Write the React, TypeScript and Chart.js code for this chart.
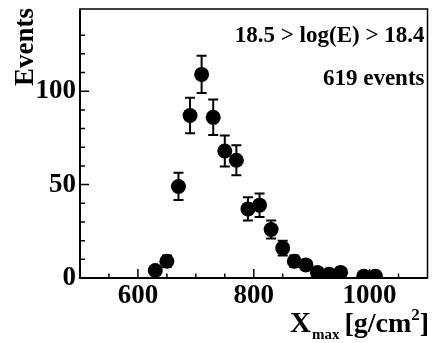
import React, { useEffect, useRef } from "react";
import { Chart, registerables } from "chart.js";

Chart.register(...registerables);

// Xmax bin centres [g/cm^2]
const xmaxBins = [630, 650, 670, 690, 710, 730, 750, 770, 790, 810, 830, 850, 870, 890, 910, 930, 950, 990, 1010];
// Events per bin
const eventCounts = [4, 9, 49, 87, 109, 86, 68, 63, 37, 39, 26, 16, 9, 7, 3, 2, 3, 1, 1];
// Statistical uncertainty per bin
const eventErrors = [2, 3, 7.3, 9.5, 10, 9.5, 8.3, 8, 6.2, 6.3, 4.8, 4, 3, 2.6, 1.8, 1.4, 1.8, 1, 1];

const energyLabel = "18.5 > log(E) > 18.4";
const countLabel = "619 events";
const xMajorLabels = [600, 800, 1000];
const yMajorLabels = [0, 50, 100];

const FONT = '"Liberation Serif", "DejaVu Serif", serif';

const framePlugin = {
  id: "frameAndText",
  beforeDatasetsDraw(chart: any) {
    const { ctx, scales } = chart;
    const xs = scales.x;
    const ys = scales.y;
    ctx.save();
    ctx.strokeStyle = "#000";
    ctx.lineWidth = 2;
    xmaxBins.forEach((xv, i) => {
      const px = xs.getPixelForValue(xv);
      const lo = ys.getPixelForValue(eventCounts[i] - eventErrors[i]);
      const hi = ys.getPixelForValue(eventCounts[i] + eventErrors[i]);
      ctx.beginPath();
      ctx.moveTo(px, lo);
      ctx.lineTo(px, hi);
      ctx.moveTo(px - 5, lo);
      ctx.lineTo(px + 5, lo);
      ctx.moveTo(px - 5, hi);
      ctx.lineTo(px + 5, hi);
      ctx.stroke();
    });
    ctx.restore();
  },
  afterDraw(chart: any) {
    const { ctx, chartArea, scales } = chart;
    const { left, right, top, bottom } = chartArea;
    const xs = scales.x;
    const ys = scales.y;
    ctx.save();
    ctx.strokeStyle = "#000";

    // frame
    ctx.lineWidth = 1.5;
    ctx.strokeRect(left, top, right - left, bottom - top);
    ctx.lineWidth = 2;
    ctx.beginPath();
    ctx.moveTo(left, top);
    ctx.lineTo(left, bottom);
    ctx.lineTo(right, bottom);
    ctx.stroke();

    // inward tick marks
    ctx.lineWidth = 1.5;
    ctx.beginPath();
    xs.ticks.forEach((t: any) => {
      const px = xs.getPixelForValue(t.value);
      if (px <= left + 1 || px >= right - 1) return;
      const len = xMajorLabels.includes(t.value) ? 9 : 4.5;
      ctx.moveTo(px, bottom);
      ctx.lineTo(px, bottom - len);
    });
    ys.ticks.forEach((t: any) => {
      const py = ys.getPixelForValue(t.value);
      if (py <= top + 1 || py >= bottom - 1) return;
      const len = yMajorLabels.includes(t.value) ? 9 : 5;
      ctx.moveTo(left, py);
      ctx.lineTo(left + len, py);
    });
    ctx.stroke();

    // annotations
    ctx.fillStyle = "#000";
    ctx.textAlign = "right";
    ctx.textBaseline = "alphabetic";
    ctx.font = `bold 23px ${FONT}`;
    ctx.fillText(energyLabel, right - 3, top + 33);
    ctx.fillText(countLabel, right - 3, top + 76);

    // y title
    ctx.save();
    ctx.translate(33, top + 77);
    ctx.rotate(-Math.PI / 2);
    ctx.textAlign = "left";
    ctx.font = `bold 27px ${FONT}`;
    ctx.fillText("Events", 0, 0);
    ctx.restore();

    // x title: X_max [g/cm^2]
    ctx.textAlign = "left";
    const base = bottom + 54;
    let x = 290;
    ctx.font = `bold 29px ${FONT}`;
    ctx.fillText("X", x, base);
    x += ctx.measureText("X").width + 1;
    ctx.font = `bold 15px ${FONT}`;
    ctx.fillText("max", x, base + 7);
    x += ctx.measureText("max").width + 5;
    ctx.font = `bold 28px ${FONT}`;
    ctx.fillText("[g/cm", x, base);
    x += ctx.measureText("[g/cm").width;
    ctx.font = `bold 17px ${FONT}`;
    ctx.fillText("2", x, base - 12);
    x += ctx.measureText("2").width;
    ctx.font = `bold 28px ${FONT}`;
    ctx.fillText("]", x, base);

    ctx.restore();
  },
};

export default function App() {
  const canvasRef = useRef<HTMLCanvasElement | null>(null);

  useEffect(() => {
    if (!canvasRef.current) return;
    const chart = new Chart(canvasRef.current, {
      type: "scatter",
      data: {
        datasets: [
          {
            data: xmaxBins.map((x, i) => ({ x, y: eventCounts[i] })),
            backgroundColor: "#000",
            borderColor: "#000",
            pointRadius: 7.5,
            pointHoverRadius: 7.5,
            borderWidth: 0,
          },
        ],
      },
      options: {
        animation: false,
        responsive: false,
        devicePixelRatio: 1,
        events: [],
        layout: { padding: { left: 0, top: 9, right: 5, bottom: 0 } },
        plugins: { legend: { display: false }, tooltip: { enabled: false } },
        scales: {
          x: {
            type: "linear",
            min: 500,
            max: 1100,
            grid: { display: false, drawTicks: false },
            border: { display: false },
            afterFit: (s: any) => {
              s.height = 65;
              s.paddingLeft = 0;
              s.paddingRight = 0;
            },
            ticks: {
              stepSize: 50,
              autoSkip: false,
              maxRotation: 0,
              padding: 2,
              color: "#000",
              font: { family: FONT, size: 27, weight: "bold" },
              callback: (v: any) => (xMajorLabels.includes(Number(v)) ? String(v) : ""),
            },
          },
          y: {
            type: "linear",
            min: 0,
            max: 144,
            grid: { display: false, drawTicks: false },
            border: { display: false },
            afterFit: (s: any) => {
              s.width = 80;
              s.paddingTop = 0;
              s.paddingBottom = 0;
            },
            ticks: {
              stepSize: 10,
              autoSkip: false,
              padding: 4,
              color: "#000",
              font: { family: FONT, size: 27, weight: "bold" },
              callback: (v: any) => (yMajorLabels.includes(Number(v)) ? String(v) : ""),
            },
          },
        },
      },
      plugins: [framePlugin],
    });
    return () => chart.destroy();
  }, []);

  return (
    <div style={{ position: "fixed", left: 0, top: 0, width: 435, height: 343, background: "#fff" }}>
      <canvas ref={canvasRef} width={435} height={343} />
    </div>
  );
}
